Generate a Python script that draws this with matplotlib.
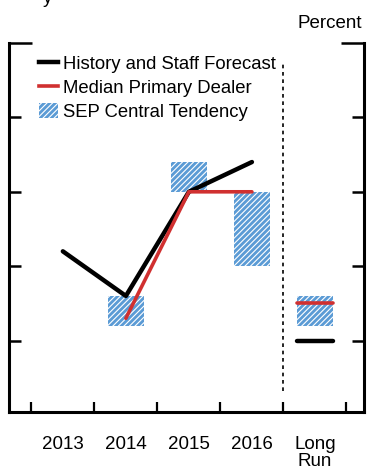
import matplotlib
matplotlib.use("Agg")
import matplotlib.pyplot as plt
from matplotlib.patches import Patch
from matplotlib.lines import Line2D

plt.rcParams['font.family'] = ['Liberation Sans', 'DejaVu Sans']
plt.rcParams['hatch.linewidth'] = 0.8

# Data (percent)
categories = ['2013', '2014', '2015', '2016', 'Long\nRun']
staff_x = [0, 1, 2, 3]
staff = [2.6, 2.3, 3.0, 3.2]
dealer_x = [1, 2, 3]
dealer = [2.15, 3.0, 3.0]
staff_lr = 2.0
dealer_lr = 2.25
sep_x = [1, 2, 3, 4]
sep_low = [2.1, 3.0, 2.5, 2.1]
sep_high = [2.3, 3.2, 3.0, 2.3]

blue = '#5b9bd5'
red = '#d03030'

fig = plt.figure(figsize=(3.67, 4.70), dpi=100)
ax = fig.add_axes([0.0253, 0.1234, 0.9668, 0.7851])

# SEP central tendency boxes
for x, lo, hi in zip(sep_x, sep_low, sep_high):
    ax.bar(x, hi - lo, bottom=lo, width=0.56, color=blue, edgecolor='white',
           hatch='//////', linewidth=0, zorder=1)

ax.plot(staff_x, staff, color='black', lw=3.2, solid_capstyle='round', zorder=3)
ax.plot(dealer_x, dealer, color=red, lw=2.6, solid_capstyle='round', zorder=4)
ax.hlines(staff_lr, 3.72, 4.28, color='black', lw=3.2, capstyle='round', zorder=3)
ax.hlines(dealer_lr, 3.72, 4.28, color=red, lw=2.6, capstyle='round', zorder=4)

# divider before long run
ax.vlines(3.5, 1.66, 3.87, color='black', lw=1.2, linestyles=(0, (2.2, 2.2)))

ax.set_xlim(-0.85, 4.78)
ax.set_ylim(1.52, 4.0)

ax.spines['top'].set_visible(False)
for s in ['left', 'right', 'bottom']:
    ax.spines[s].set_linewidth(2.2)

ax.set_yticks([2.0, 2.5, 3.0, 3.5])
ax.set_yticks([4.0], minor=True)
ax.set_yticklabels([])
ax.tick_params(axis='y', which='major', direction='in', length=8.5, width=1.8,
               left=True, right=True, labelleft=False)
ax.tick_params(axis='y', which='minor', direction='in', length=16.5, width=1.8,
               left=True, right=True, labelleft=False)

ax.set_xticks([-0.5, 0.5, 1.5, 2.5, 3.5, 4.5])
ax.set_xticklabels([])
ax.set_xticks(range(len(categories)), minor=True)
ax.set_xticklabels(categories, minor=True, fontsize=13.5, linespacing=1.0)
ax.tick_params(axis='x', which='major', direction='in', length=7, width=1.6)
ax.tick_params(axis='x', which='minor', length=0, pad=17)

handles = [Line2D([], [], color='black', lw=3.2),
           Line2D([], [], color=red, lw=2.6),
           Patch(facecolor=blue, edgecolor='white', hatch='//////', lw=0)]
labels = ['History and Staff Forecast', 'Median Primary Dealer',
          'SEP Central Tendency']
ax.legend(handles, labels, loc='upper left', bbox_to_anchor=(0.085, 0.968),
          frameon=False, fontsize=13.3, handlelength=1.0, handleheight=0.9,
          handletextpad=0.3, labelspacing=0.32, borderpad=0, borderaxespad=0)

fig.text(362 / 367, 1 - 28 / 470, 'Percent', ha='right', va='baseline',
         fontsize=13.5)
fig.text(43 / 367, 1 - 3 / 470, 'y', ha='left', va='baseline', fontsize=13.5)

fig.savefig('out.png', dpi=100)
